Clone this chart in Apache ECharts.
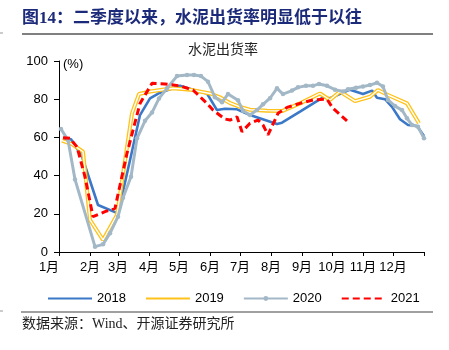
<!DOCTYPE html>
<html>
<head>
<meta charset="utf-8">
<script src="https://cdn.jsdelivr.net/npm/echarts@6/dist/echarts.min.js"></script>
<style>html,body{margin:0;padding:0;background:#fff;}#c{width:449px;height:350px;}</style>
</head>
<body>
<div id="c"></div>
<script>
// Month ticks (day-of-year of month start) and labels
var monthStarts = [0, 31, 59, 90, 120, 151, 181, 212, 243, 273, 304, 334];
var monthLabels = ['1月','2月','3月','4月','5月','6月','7月','8月','9月','10月','11月','12月'];
var yTicks = [0, 20, 40, 60, 80, 100];

// 2018
var days2018 = [4,12,23,39,59,71,81,91,101,121,134,148,158,166,178,191,218,223,241,264,271,291,304,313,318,326,333,341,349,358,365];
var vals2018 = [59.5,59,50,24.6,20.2,48,71.7,80.4,83.4,87,85,83,74.3,75,74.7,71.7,67,67.7,73.5,81,80.5,85,82.7,84.5,80.8,80,76,69.5,66.5,66,60.7];

// 2019
var days2019 = [3,13,24,31,44,58,73,80,91,114,131,151,161,171,181,191,208,223,241,261,271,281,296,311,319,329,348,360];
var vals2019 = [58.3,56.5,52.5,16.8,6.3,19.4,72.6,82.7,84,85.7,85,83,81,78,76,74.5,74,73.8,77.8,83,79.6,84,79,81.3,84.8,82.2,77.8,67.4];

// 2020
var days2020 = [2,9,16,36,44,51,59,64,72,78,86,93,100,108,118,128,135,142,149,156,163,169,179,184,191,198,204,211,218,224,233,239,247,254,260,268,276,284,289,297,304,311,318,324,329,336,343,348,353,359,365];
var vals2020 = [64.4,58.6,38,2.8,4,9.8,18.5,28.4,39.4,59.5,68.7,73,80.4,85.7,92.1,92.7,92.7,92.1,89.2,81,78.4,82.7,79.4,74,71.7,74.3,77.3,80.5,85.7,82.7,84.5,86.2,87,87,88,87,85,84,85.2,86,86.6,87.4,88.6,86.6,79.6,76.4,74.3,70,66.5,65.6,59.5];

// 2021
var days2021 = [4,11,18,26,34,46,56,68,81,93,106,121,134,148,154,166,171,178,183,191,199,204,209,219,228,241,254,268,274,288];
var vals2021 = [59.8,59.5,55,39.4,18.5,21.1,22.9,51.7,77.8,88.3,88,87,84.8,77.8,74.3,69.6,69.1,70.8,63,67.4,69.1,66.5,61.3,72.6,75.7,77.8,79.6,80,75.2,68.7];

function pairs(d, v) { return d.map(function (x, i) { return [x, v[i]]; }); }

var chart = echarts.init(document.getElementById('c'), null, {renderer: 'canvas'});
var baseFont = '"Liberation Sans", Arial, "Noto Sans CJK SC", sans-serif';
var cjkSerif = '"Liberation Serif", "Noto Sans CJK SC", serif';

var option = {
  animation: false,
  backgroundColor: '#fff',
  grid: {left: 59, right: 25, top: 61, bottom: 98, containLabel: false},
  xAxis: {
    type: 'value', min: 0, max: 365,
    axisLine: {show: true, lineStyle: {color: '#000', width: 1}},
    axisTick: {show: true, length: 4, lineStyle: {color: '#000'}, customValues: monthStarts.concat([365])},
    axisLabel: {
      customValues: monthStarts,
      margin: 9, color: '#000', fontSize: 13, fontFamily: baseFont,
      formatter: function (v) {
        var i = monthStarts.indexOf(Math.round(v));
        if (i === 0) return '{a|' + monthLabels[0] + '}';
        return i >= 0 ? monthLabels[i] : '';
      },
      rich: {a: {padding: [0, 20, 0, 0], fontSize: 13, color: '#000', fontFamily: baseFont}}
    },
    splitLine: {show: false}
  },
  yAxis: {
    type: 'value', min: 0, max: 100, interval: 20,
    axisLine: {show: true, lineStyle: {color: '#000', width: 1}},
    axisTick: {show: true, inside: false, length: 5, lineStyle: {color: '#000'}},
    axisLabel: {margin: 11, color: '#000', fontSize: 13, fontFamily: baseFont},
    splitLine: {show: false}
  },
  legend: {
    data: [
      {name: '2018', itemStyle: {opacity: 0}},
      {name: '2019', itemStyle: {opacity: 0}},
      {name: '2020'},
      {name: '2021', itemStyle: {opacity: 0}}
    ],
    left: 42, top: 287,
    itemWidth: 44, itemHeight: 6, itemGap: 19,
    textStyle: {fontSize: 13, color: '#000', fontFamily: baseFont}
  },
  graphic: [
    {type: 'text', left: 22, top: 10, style: {text: '图14：二季度以来，水泥出货率明显低于以往', fill: '#1C2A7A', font: 'bold 17px ' + cjkSerif}},
    {type: 'line', shape: {x1: 22, y1: 34, x2: 433, y2: 34}, style: {stroke: '#808080', lineWidth: 2}},
    {type: 'line', shape: {x1: 0, y1: 33, x2: 3, y2: 33}, style: {stroke: '#999', lineWidth: 1}},
    {type: 'text', left: 188, top: 43, style: {text: '水泥出货率', fill: '#222', font: '14px ' + cjkSerif}},
    {type: 'text', left: 63, top: 58, style: {text: '(%)', fill: '#000', font: '13px ' + baseFont}},
    {type: 'line', shape: {x1: 21, y1: 312, x2: 433, y2: 312}, style: {stroke: '#808080', lineWidth: 1.5}},
    {type: 'line', shape: {x1: 0, y1: 311, x2: 3, y2: 311}, style: {stroke: '#999', lineWidth: 1}},
    {type: 'text', left: 22, top: 317, style: {text: '数据来源：Wind、开源证券研究所', fill: '#222', font: '14px ' + cjkSerif}}
  ],
  series: [
    {name: '2018', type: 'line', data: pairs(days2018, vals2018), symbol: 'none', z: 2,
      lineStyle: {color: '#3B78C8', width: 2.6}, itemStyle: {color: '#3B78C8'}},
    {name: '2019', type: 'line', data: pairs(days2019, vals2019), symbol: 'none', z: 3,
      lineStyle: {color: '#FFC21A', width: 4}, itemStyle: {color: '#FFC21A'}},
    {name: '2019w', type: 'line', data: pairs(days2019, vals2019), symbol: 'none', z: 4, silent: true,
      lineStyle: {color: '#FFFFFF', width: 1.4}, itemStyle: {color: '#FFFFFF'}},
    {name: '2020', type: 'line', data: pairs(days2020, vals2020), symbol: 'circle', symbolSize: 4.5, z: 5,
      lineStyle: {color: '#A3B8C7', width: 3}, itemStyle: {color: '#A3B8C7'}},
    {name: '2021', type: 'line', data: pairs(days2021, vals2021), symbol: 'none', z: 6,
      lineStyle: {color: '#FF0000', width: 3, type: [7, 4]}, itemStyle: {color: '#FF0000'}}
  ]
};
chart.setOption(option);
</script>
</body>
</html>
